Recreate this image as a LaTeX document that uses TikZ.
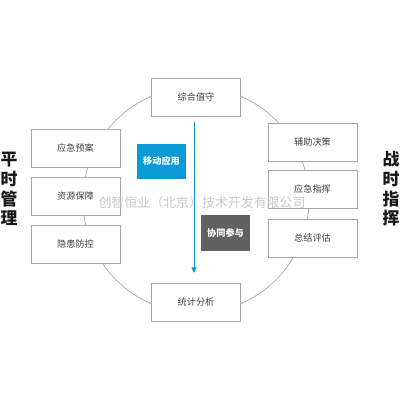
\documentclass[tikz,border=0pt]{standalone}
\usepackage{fontspec}
\setmainfont{Noto Sans CJK SC}
\usetikzlibrary{positioning,calc,arrows.meta}

\definecolor{boxline}{HTML}{A6A6A6}
\definecolor{ringline}{HTML}{AAAAAA}
\definecolor{mobblue}{HTML}{0A9BD7}
\definecolor{coopgray}{HTML}{616161}
\definecolor{wmark}{HTML}{C8C8C8}

\tikzset{
  stepbox/.style={draw=boxline, line width=0.6pt, fill=white, minimum width=2.225cm,
    minimum height=0.95cm, inner sep=0pt, font=\fontsize{6.5}{7}\selectfont, text=black!75},
  tagbox/.style={minimum width=1.2cm, minimum height=0.88cm, inner sep=0pt,
    font=\bfseries\fontsize{6.5}{7}\selectfont, text=white},
  sidelabel/.style={font=\bfseries\fontsize{12}{14}\selectfont, align=center, text=black!90}
}

\begin{document}
\begin{tikzpicture}[x=0.025cm, y=-0.025cm]
\useasboundingbox (0,0) rectangle (400,400);

% ring behind the boxes
\draw[ringline, line width=0.5pt] (196,200) circle (113);

% boxes on the ring
\node[stepbox] (zhishou) at (196,97)  {综合值守};
\node[stepbox] (tongji)  at (196,302) {统计分析};
\node[stepbox] (yuan)    at (75.5,148.5) {应急预案};
\node[stepbox] (ziyuan)  at (75.5,196)   {资源保障};
\node[stepbox] (yinhuan) at (75.5,244)   {隐患防控};
\node[stepbox] (fuzhu)   at (312.5,142)  {辅助决策};
\node[stepbox] (zhihui)  at (312.5,189)  {应急指挥};
\node[stepbox] (pinggu)  at (312.5,238.5) {总结评估};

% inner tags
\node[tagbox, fill=mobblue]  (yidong) at (161.5,161.5) {移动应用};
\node[tagbox, fill=coopgray] (xietong) at (225.5,233) {协同参与};

% flow line
\coordinate (flowS) at (194,122);
\coordinate (flowE) at (194,273);
\draw[mobblue, line width=0.6pt, -{Triangle[length=4pt,width=3.5pt]}] (flowS) -- (flowE);

% side titles
\node[sidelabel] (pingshi)  at (9,189)   {平\\时\\管\\理};
\node[sidelabel] (zhanshi) at (391,189) {战\\时\\指\\挥};

% watermark, on top
\node[font=\fontsize{9.2}{11}\selectfont, text=wmark, inner sep=0pt] (mark) at (202,203) {创智恒业（北京）技术开发有限公司};
\end{tikzpicture}
\end{document}
